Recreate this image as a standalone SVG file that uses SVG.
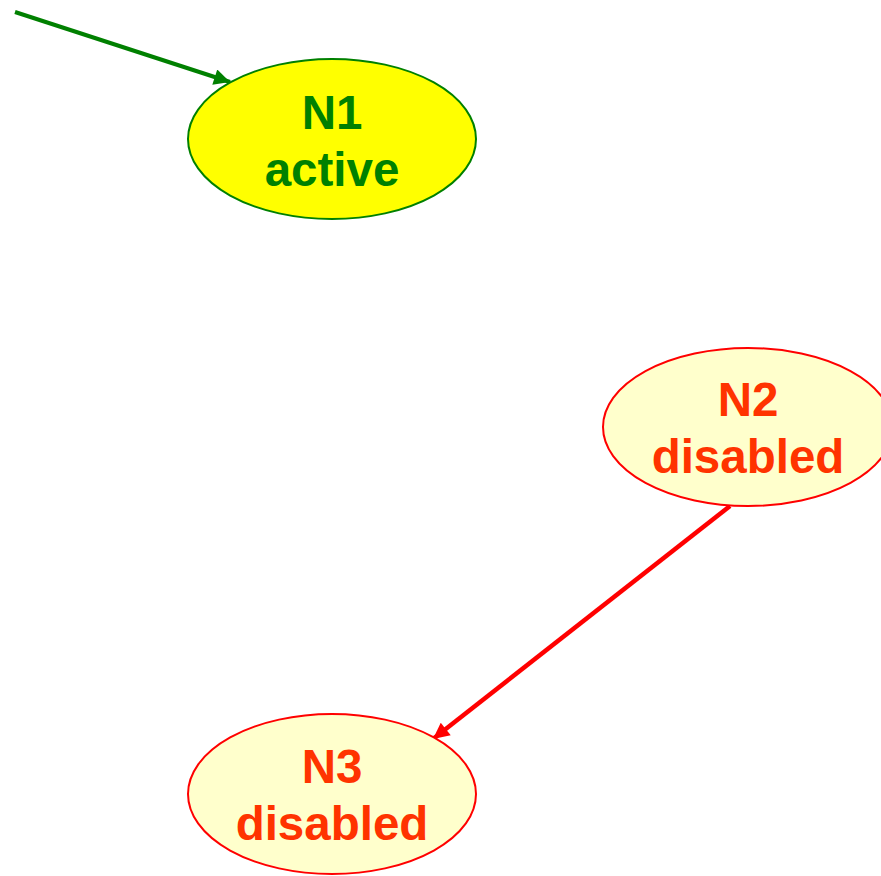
<svg xmlns="http://www.w3.org/2000/svg" width="881" height="876" viewBox="0 0 881 876">
  <style>
    .lbl { font-family: "Liberation Sans", Arial, sans-serif; font-weight: bold; font-size: 47.5px; text-anchor: middle; }
    .active ellipse { fill: #FFFF00; stroke: #008000; stroke-width: 2; }
    .active text { fill: #008000; }
    .disabled ellipse { fill: #FFFFCC; stroke: #FF0000; stroke-width: 2; }
    .disabled text { fill: #FF3300; }
    .edge-green { stroke: #008000; stroke-width: 4; fill: none; }
    .edge-red { stroke: #FF0000; stroke-width: 4.5; fill: none; }
  </style>
  <defs>
    <marker id="arrowGreen" viewBox="0 0 10 10" refX="10" refY="5" markerWidth="5" markerHeight="4" markerUnits="strokeWidth" orient="auto">
      <path d="M0,0 L10,5 L0,10 z" fill="#008000"/>
    </marker>
    <marker id="arrowRed" viewBox="0 0 10 10" refX="10" refY="5" markerWidth="4.5" markerHeight="3.6" markerUnits="strokeWidth" orient="auto">
      <path d="M0,0 L10,5 L0,10 z" fill="#FF0000"/>
    </marker>
  </defs>

  <g id="connectors">
    <line class="edge-green" x1="15" y1="12" x2="230" y2="82" marker-end="url(#arrowGreen)"/>
    <line class="edge-red" x1="730" y1="506" x2="433" y2="739" marker-end="url(#arrowRed)"/>
  </g>

  <g id="N1" class="active">
    <ellipse cx="332" cy="139" rx="144" ry="80"/>
    <text class="lbl" x="332" y="129">N1</text>
    <text class="lbl" x="332" y="186">active</text>
  </g>

  <g id="N2" class="disabled">
    <ellipse cx="748" cy="427" rx="145" ry="79"/>
    <text class="lbl" x="748" y="416">N2</text>
    <text class="lbl" x="748" y="473">disabled</text>
  </g>

  <g id="N3" class="disabled">
    <ellipse cx="332" cy="794" rx="144" ry="80"/>
    <text class="lbl" x="332" y="783">N3</text>
    <text class="lbl" x="332" y="840">disabled</text>
  </g>
</svg>
